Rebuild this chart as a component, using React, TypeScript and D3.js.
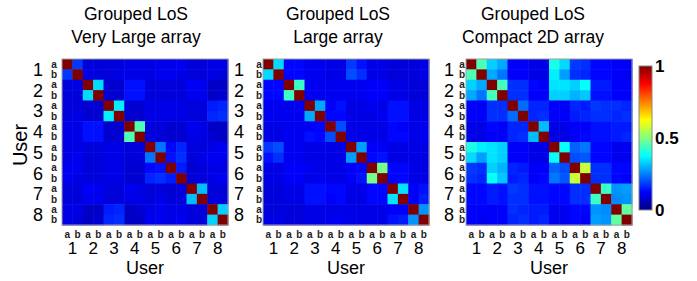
import React from "react";
import * as d3 from "d3";

// ---------- data ----------
const users = ["1", "2", "3", "4", "5", "6", "7", "8"];
const subs = ["a", "b"];
const cellLabels = users.flatMap((u) => subs.map((s) => u + s));

const titlesTop = ["Grouped LoS", "Grouped LoS", "Grouped LoS"];
const titlesBottom = ["Very Large array", "Large array", "Compact 2D array"];

const veryLarge = [
  [1.00, 0.18, 0.09, 0.09, 0.09, 0.09, 0.10, 0.10, 0.10, 0.10, 0.11, 0.11, 0.09, 0.09, 0.10, 0.10],
  [0.18, 1.00, 0.10, 0.09, 0.09, 0.10, 0.10, 0.10, 0.10, 0.11, 0.11, 0.10, 0.09, 0.09, 0.10, 0.09],
  [0.09, 0.10, 1.00, 0.34, 0.08, 0.08, 0.14, 0.14, 0.09, 0.09, 0.09, 0.09, 0.12, 0.11, 0.07, 0.07],
  [0.09, 0.09, 0.34, 1.00, 0.08, 0.08, 0.14, 0.14, 0.09, 0.09, 0.09, 0.09, 0.11, 0.11, 0.07, 0.08],
  [0.09, 0.09, 0.08, 0.08, 1.00, 0.36, 0.08, 0.08, 0.10, 0.10, 0.10, 0.10, 0.09, 0.09, 0.15, 0.16],
  [0.09, 0.10, 0.08, 0.08, 0.36, 1.00, 0.08, 0.08, 0.10, 0.10, 0.10, 0.10, 0.09, 0.09, 0.16, 0.17],
  [0.10, 0.10, 0.14, 0.14, 0.08, 0.08, 1.00, 0.45, 0.09, 0.09, 0.08, 0.08, 0.11, 0.10, 0.07, 0.07],
  [0.10, 0.10, 0.14, 0.14, 0.08, 0.08, 0.45, 1.00, 0.09, 0.09, 0.08, 0.08, 0.10, 0.10, 0.08, 0.07],
  [0.10, 0.10, 0.09, 0.09, 0.10, 0.10, 0.09, 0.09, 1.00, 0.24, 0.13, 0.16, 0.09, 0.09, 0.10, 0.11],
  [0.10, 0.11, 0.09, 0.09, 0.10, 0.10, 0.09, 0.09, 0.24, 1.00, 0.14, 0.17, 0.09, 0.10, 0.11, 0.11],
  [0.11, 0.11, 0.09, 0.09, 0.10, 0.10, 0.08, 0.08, 0.13, 0.14, 1.00, 0.15, 0.08, 0.09, 0.10, 0.10],
  [0.11, 0.10, 0.09, 0.09, 0.10, 0.10, 0.08, 0.08, 0.16, 0.17, 0.15, 1.00, 0.09, 0.09, 0.10, 0.11],
  [0.09, 0.09, 0.12, 0.11, 0.09, 0.09, 0.11, 0.10, 0.09, 0.09, 0.08, 0.09, 1.00, 0.31, 0.09, 0.09],
  [0.09, 0.09, 0.11, 0.11, 0.09, 0.09, 0.10, 0.10, 0.09, 0.10, 0.09, 0.09, 0.31, 1.00, 0.09, 0.09],
  [0.10, 0.10, 0.07, 0.07, 0.15, 0.16, 0.07, 0.08, 0.10, 0.11, 0.10, 0.10, 0.09, 0.09, 1.00, 0.33],
  [0.10, 0.09, 0.07, 0.08, 0.16, 0.17, 0.07, 0.07, 0.11, 0.11, 0.10, 0.11, 0.09, 0.09, 0.33, 1.00],
];

const large = [
  [1.00, 0.34, 0.13, 0.13, 0.11, 0.11, 0.10, 0.10, 0.18, 0.14, 0.10, 0.10, 0.09, 0.09, 0.09, 0.10],
  [0.34, 1.00, 0.13, 0.13, 0.11, 0.11, 0.10, 0.10, 0.20, 0.17, 0.10, 0.10, 0.09, 0.09, 0.09, 0.10],
  [0.13, 0.13, 1.00, 0.43, 0.11, 0.11, 0.11, 0.11, 0.11, 0.11, 0.12, 0.12, 0.10, 0.10, 0.09, 0.09],
  [0.13, 0.13, 0.43, 1.00, 0.11, 0.11, 0.11, 0.11, 0.11, 0.11, 0.12, 0.12, 0.10, 0.10, 0.09, 0.09],
  [0.11, 0.11, 0.11, 0.11, 1.00, 0.29, 0.12, 0.14, 0.10, 0.10, 0.11, 0.10, 0.14, 0.14, 0.10, 0.10],
  [0.11, 0.11, 0.11, 0.11, 0.29, 1.00, 0.13, 0.13, 0.10, 0.10, 0.10, 0.11, 0.14, 0.14, 0.10, 0.10],
  [0.10, 0.10, 0.11, 0.11, 0.12, 0.13, 1.00, 0.20, 0.10, 0.10, 0.10, 0.10, 0.13, 0.12, 0.10, 0.11],
  [0.10, 0.10, 0.11, 0.11, 0.14, 0.13, 0.20, 1.00, 0.10, 0.10, 0.10, 0.10, 0.13, 0.13, 0.10, 0.11],
  [0.18, 0.20, 0.11, 0.11, 0.10, 0.10, 0.10, 0.10, 1.00, 0.28, 0.12, 0.12, 0.10, 0.10, 0.10, 0.10],
  [0.14, 0.17, 0.11, 0.11, 0.10, 0.10, 0.10, 0.10, 0.28, 1.00, 0.13, 0.14, 0.10, 0.10, 0.10, 0.10],
  [0.10, 0.10, 0.12, 0.12, 0.11, 0.10, 0.10, 0.10, 0.12, 0.13, 1.00, 0.49, 0.13, 0.13, 0.10, 0.10],
  [0.10, 0.10, 0.12, 0.12, 0.10, 0.11, 0.10, 0.10, 0.12, 0.14, 0.49, 1.00, 0.13, 0.13, 0.10, 0.10],
  [0.09, 0.09, 0.10, 0.10, 0.14, 0.14, 0.13, 0.13, 0.10, 0.10, 0.13, 0.13, 1.00, 0.35, 0.12, 0.14],
  [0.09, 0.09, 0.10, 0.10, 0.14, 0.14, 0.12, 0.13, 0.10, 0.10, 0.13, 0.13, 0.35, 1.00, 0.12, 0.15],
  [0.09, 0.09, 0.09, 0.09, 0.10, 0.10, 0.10, 0.10, 0.10, 0.10, 0.10, 0.10, 0.12, 0.12, 1.00, 0.27],
  [0.10, 0.10, 0.09, 0.09, 0.10, 0.10, 0.11, 0.11, 0.10, 0.10, 0.10, 0.10, 0.14, 0.15, 0.27, 1.00],
];

const compact2D = [
  [1.00, 0.45, 0.33, 0.29, 0.12, 0.12, 0.10, 0.10, 0.40, 0.34, 0.18, 0.17, 0.13, 0.13, 0.12, 0.12],
  [0.45, 1.00, 0.29, 0.24, 0.12, 0.12, 0.10, 0.10, 0.36, 0.28, 0.17, 0.16, 0.13, 0.13, 0.12, 0.11],
  [0.33, 0.29, 1.00, 0.44, 0.17, 0.17, 0.13, 0.12, 0.35, 0.35, 0.33, 0.38, 0.15, 0.15, 0.12, 0.12],
  [0.29, 0.24, 0.44, 1.00, 0.17, 0.17, 0.12, 0.12, 0.33, 0.33, 0.30, 0.32, 0.14, 0.14, 0.12, 0.12],
  [0.12, 0.12, 0.17, 0.17, 1.00, 0.23, 0.16, 0.16, 0.12, 0.12, 0.16, 0.15, 0.18, 0.17, 0.17, 0.16],
  [0.12, 0.12, 0.17, 0.17, 0.23, 1.00, 0.16, 0.17, 0.12, 0.12, 0.15, 0.16, 0.17, 0.17, 0.16, 0.17],
  [0.10, 0.10, 0.13, 0.12, 0.16, 0.16, 1.00, 0.31, 0.10, 0.10, 0.12, 0.12, 0.14, 0.14, 0.15, 0.15],
  [0.10, 0.10, 0.12, 0.12, 0.16, 0.17, 0.31, 1.00, 0.10, 0.10, 0.12, 0.13, 0.14, 0.14, 0.15, 0.16],
  [0.40, 0.36, 0.35, 0.33, 0.12, 0.12, 0.10, 0.10, 1.00, 0.38, 0.22, 0.24, 0.13, 0.13, 0.11, 0.11],
  [0.34, 0.28, 0.35, 0.33, 0.12, 0.12, 0.10, 0.10, 0.38, 1.00, 0.20, 0.21, 0.13, 0.13, 0.11, 0.11],
  [0.18, 0.17, 0.33, 0.30, 0.16, 0.15, 0.12, 0.12, 0.22, 0.20, 1.00, 0.57, 0.17, 0.17, 0.13, 0.13],
  [0.17, 0.16, 0.38, 0.32, 0.15, 0.16, 0.12, 0.13, 0.24, 0.21, 0.57, 1.00, 0.17, 0.17, 0.13, 0.12],
  [0.13, 0.13, 0.15, 0.14, 0.18, 0.17, 0.14, 0.14, 0.13, 0.13, 0.17, 0.17, 1.00, 0.43, 0.27, 0.28],
  [0.13, 0.13, 0.15, 0.14, 0.17, 0.17, 0.14, 0.14, 0.13, 0.13, 0.17, 0.17, 0.43, 1.00, 0.26, 0.27],
  [0.12, 0.12, 0.12, 0.12, 0.17, 0.16, 0.15, 0.15, 0.11, 0.11, 0.13, 0.13, 0.27, 0.26, 1.00, 0.47],
  [0.12, 0.11, 0.12, 0.12, 0.16, 0.17, 0.15, 0.16, 0.11, 0.11, 0.13, 0.12, 0.28, 0.27, 0.47, 1.00],
];

const colorbarTicks = [0, 0.5, 1];
const colorbarTickLabels = ["0", "0.5", "1"];

// ---------- helpers ----------
const clamp = (v: number) => Math.max(0, Math.min(1, v));
function jet(v: number) {
  const r = clamp(1.5 - Math.abs(4 * v - 3));
  const g = clamp(1.5 - Math.abs(4 * v - 2));
  const b = clamp(1.5 - Math.abs(4 * v - 1));
  return d3.rgb(r * 255, g * 255, b * 255).formatHex();
}

const W = 697;
const H = 281;
const SIZE = 166;
const TOP = 59;
const panels = [
  { x: 62, data: veryLarge, numOff: 19, letOff: 8, titleX: 136 },
  { x: 263, data: large, numOff: 19, letOff: 4, titleX: 338 },
  { x: 466, data: compact2D, numOff: 12, letOff: 4, titleX: 533 },
];

const FONT = "'Liberation Sans', Arial, sans-serif";

function Panel({ p, i }: { p: (typeof panels)[number]; i: number }) {
  const x = d3.scaleBand<string>().domain(cellLabels).range([p.x, p.x + SIZE]);
  const y = d3.scaleBand<string>().domain(cellLabels).range([TOP, TOP + SIZE]);
  const ux = d3.scaleBand<string>().domain(users).range([p.x, p.x + SIZE]);
  const uy = d3.scaleBand<string>().domain(users).range([TOP, TOP + SIZE]);
  const bw = x.bandwidth();
  return (
    <g>
      <text x={p.titleX} y={20} textAnchor="middle" fontSize={17.5} fontFamily={FONT} fill="#000">
        {titlesTop[i]}
      </text>
      <text x={p.titleX} y={43} textAnchor="middle" fontSize={17.5} fontFamily={FONT} fill="#000">
        {titlesBottom[i]}
      </text>
      {p.data.map((row, r) =>
        row.map((v, c) => (
          <rect
            key={r + "-" + c}
            x={x(cellLabels[c])}
            y={y(cellLabels[r])}
            width={bw + 0.5}
            height={bw + 0.5}
            fill={jet(v)}
          />
        ))
      )}
      <rect x={p.x} y={TOP} width={SIZE} height={SIZE} fill="none" stroke="#a0a0a0" strokeWidth={1} />
      {/* y axis labels */}
      {users.map((u) => (
        <text
          key={"yn" + u}
          x={p.x - p.numOff}
          y={(uy(u) as number) + uy.bandwidth() / 2 + 6.5}
          textAnchor="end"
          fontSize={18}
          fontFamily={FONT}
        >
          {u}
        </text>
      ))}
      {cellLabels.map((l) => (
        <text
          key={"yl" + l}
          x={p.x - p.letOff}
          y={(y(l) as number) + bw / 2 + 3.5}
          textAnchor="middle"
          fontSize={10}
          fontWeight="bold"
          fontFamily={FONT}
          fill="#222"
        >
          {l.slice(1)}
        </text>
      ))}
      {/* x axis labels */}
      {cellLabels.map((l) => (
        <text
          key={"xl" + l}
          x={(x(l) as number) + bw / 2}
          y={238}
          textAnchor="middle"
          fontSize={10}
          fontWeight="bold"
          fontFamily={FONT}
          fill="#222"
        >
          {l.slice(1)}
        </text>
      ))}
      {users.map((u) => (
        <text
          key={"xn" + u}
          x={(ux(u) as number) + ux.bandwidth() / 2}
          y={254}
          textAnchor="middle"
          fontSize={17}
          fontFamily={FONT}
        >
          {u}
        </text>
      ))}
      <text x={p.x + SIZE / 2} y={274} textAnchor="middle" fontSize={18} fontFamily={FONT}>
        User
      </text>
    </g>
  );
}

export default function App() {
  const cbX = 639;
  const cbW = 13;
  const cbTop = 66;
  const cbBot = 210;
  const cy = d3.scaleLinear().domain([0, 1]).range([cbBot, cbTop]);
  const stops = d3.range(0, 1.0001, 0.0625);
  return (
    <div style={{ position: "absolute", left: 0, top: 0 }}>
      <svg width={W} height={H} style={{ display: "block", background: "#fff" }}>
        <defs>
          <linearGradient id="jetgrad" x1="0" y1="1" x2="0" y2="0">
            {stops.map((s) => (
              <stop key={s} offset={s} stopColor={jet(s)} />
            ))}
          </linearGradient>
        </defs>
        <text
          transform={`translate(27,145) rotate(-90)`}
          textAnchor="middle"
          fontSize={20}
          fontFamily={FONT}
        >
          User
        </text>
        {panels.map((p, i) => (
          <Panel key={i} p={p} i={i} />
        ))}
        <rect x={cbX} y={cbTop} width={cbW} height={cbBot - cbTop} fill="url(#jetgrad)" stroke="#888" strokeWidth={1} />
        {colorbarTicks.map((t, k) => (
          <text
            key={t}
            x={cbX + cbW + 3}
            y={cy(t) + 6}
            fontSize={17}
            fontWeight="bold"
            fontFamily={FONT}
          >
            {colorbarTickLabels[k]}
          </text>
        ))}
      </svg>
    </div>
  );
}
